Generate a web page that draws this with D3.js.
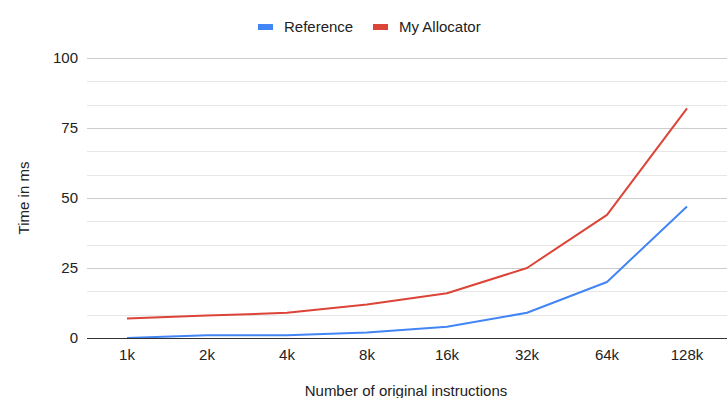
<!DOCTYPE html>
<html><head><meta charset="utf-8">
<script src="https://cdn.jsdelivr.net/npm/d3@7"></script>
<style>body{margin:0;background:#fff}svg{display:block;font-family:Arial,"Liberation Sans",sans-serif}</style>
</head><body><svg id="c" width="728" height="398"></svg>
<script>
const categories = ["1k","2k","4k","8k","16k","32k","64k","128k"];
const referenceValues = [0, 1, 1, 2, 4, 9, 20, 47];
const allocatorValues = [7, 8, 9, 12, 16, 25, 44, 82];
const yTicks = [0, 25, 50, 75, 100];
const seriesNames = ["Reference", "My Allocator"];
const seriesColors = ["#4285f4", "#db4437"];

const FS = 15;
const FF = "Arial, 'Liberation Sans', sans-serif";
const svg = d3.select("#c");
const m = {left: 87, right: 727, top: 58, bottom: 338};
const x = d3.scaleBand().domain(categories).range([m.left, m.right]);
const y = d3.scaleLinear().domain([0, 100]).range([m.bottom, m.top]);

// gridlines (major + minor)
const grid = d3.range(0, 101, 25/3).filter(v => v > 0.01);
svg.append("g").selectAll("line").data(grid).join("line")
  .attr("x1", m.left).attr("x2", m.right)
  .attr("y1", d => Math.round(y(d)) + 0.5).attr("y2", d => Math.round(y(d)) + 0.5)
  .attr("stroke", d => (Math.abs(d % 25) < 0.01 || Math.abs(d % 25 - 25) < 0.01) ? "#cccccc" : "#e6e6e6")
  .attr("stroke-width", 1);

// y axis labels
const yAxis = d3.axisLeft(y).tickValues(yTicks).tickSize(0).tickPadding(9);
const ga = svg.append("g").attr("transform", `translate(${m.left},0)`).call(yAxis);
ga.select(".domain").remove();
ga.selectAll("text").attr("font-size", FS).attr("fill", "#222").attr("font-family", FF);

// x axis labels
const xAxis = d3.axisBottom(x).tickSize(0).tickPadding(11);
const gx = svg.append("g").attr("transform", `translate(0,${m.bottom})`).call(xAxis);
gx.select(".domain").remove();
gx.selectAll("text").attr("font-size", FS).attr("fill", "#222").attr("font-family", FF);

// lines
const line = d3.line().x((d, i) => x(categories[i]) + x.bandwidth() / 2).y(d => y(d));
[referenceValues, allocatorValues].forEach((vals, k) => {
  svg.append("path").datum(vals).attr("d", line)
    .attr("fill", "none").attr("stroke", seriesColors[k]).attr("stroke-width", 2)
    .attr("stroke-linejoin", "round");
});

// baseline
svg.append("line").attr("x1", m.left).attr("x2", m.right)
  .attr("y1", y(0) + 0.5).attr("y2", y(0) + 0.5).attr("stroke", "#333").attr("stroke-width", 1);

// legend
const legend = svg.append("g");
const lx = [258, 373];
seriesNames.forEach((n, i) => {
  legend.append("rect").attr("x", lx[i]).attr("y", 24).attr("width", 15).attr("height", 6).attr("fill", seriesColors[i]);
  legend.append("text").attr("x", lx[i] + 26).attr("y", 32).attr("font-size", FS).attr("fill", "#222").text(n);
});

// axis titles
svg.append("text").attr("x", 406).attr("y", 396).attr("text-anchor", "middle")
  .attr("font-size", FS).attr("fill", "#222").text("Number of original instructions");
svg.append("text").attr("transform", "translate(29,198) rotate(-90)").attr("text-anchor", "middle")
  .attr("font-size", FS).attr("fill", "#222").text("Time in ms");
</script></body></html>
